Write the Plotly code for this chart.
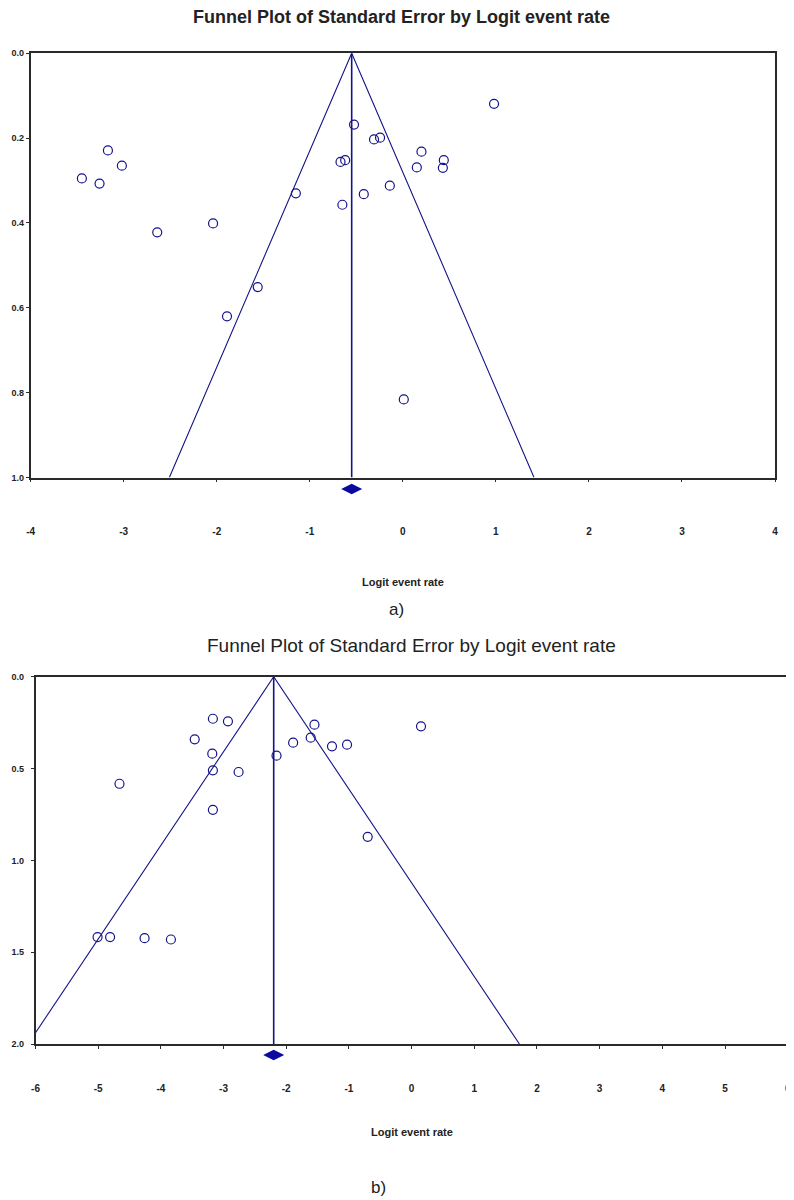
import plotly.graph_objects as go

# panel a) - logit event rate vs standard error
LOGIT_A = [-3.45, -3.26, -3.17, -3.02, -2.64, -2.04, -1.89, -1.56, -1.15, -0.67, -0.62, -0.65,
           -0.525, -0.42, -0.31, -0.245, -0.14, 0.01, 0.15, 0.20, 0.43, 0.44, 0.98]
SE_A = [0.295, 0.307, 0.229, 0.265, 0.422, 0.401, 0.620, 0.551, 0.330, 0.256, 0.252, 0.357,
        0.168, 0.332, 0.203, 0.199, 0.312, 0.816, 0.269, 0.232, 0.270, 0.252, 0.119]
MEAN_A = -0.55

# panel b)
LOGIT_B = [-5.01, -4.81, -4.66, -4.26, -3.84, -3.46, -3.17, -3.18, -3.17, -3.17, -2.93, -2.76,
           -2.155, -1.89, -1.61, -1.55, -1.27, -1.03, -0.70, 0.15]
SE_B = [1.418, 1.418, 0.583, 1.424, 1.431, 0.341, 0.229, 0.419, 0.510, 0.725, 0.243, 0.519,
        0.430, 0.359, 0.332, 0.261, 0.379, 0.370, 0.872, 0.270]
MEAN_B = -2.2

XTICKS_A = [-4, -3, -2, -1, 0, 1, 2, 3, 4]
YTICKS_A = [0.0, 0.2, 0.4, 0.6, 0.8, 1.0]
XTICKS_B = [-6, -5, -4, -3, -2, -1, 0, 1, 2, 3, 4, 5, 6]
YTICKS_B = [0.0, 0.5, 1.0, 1.5, 2.0]

TITLE = 'Funnel Plot of Standard Error by Logit event rate'
XTITLE = 'Logit event rate'

NAVY = '#14148a'
FRAME = '#2a2a2a'
NARROW = 'Liberation Sans Narrow, Arial Narrow, Liberation Sans, Arial'
SANS = 'Liberation Sans, Arial'
W, H = 794, 1200
# the page body adds 8px around the figure, so positions below are in page px
OFF = 8


def px_x(p) :
	return (p - OFF)/W


def px_y(p) :
	return 1 - (p - OFF)/H


def add_funnel(fig, logit, se, mean, se_max, xa, ya, xd, yd) :
	# study points
	fig.add_trace(go.Scatter(x=logit, y=se, mode='markers', xaxis=xa, yaxis=ya,
	                         marker=dict(symbol='circle-open', size=9, color=NAVY,
	                                     line=dict(width=1.2, color=NAVY)),
	                         showlegend=False))
	# 95% limits
	fig.add_trace(go.Scatter(x=[mean - 1.96*se_max, mean, mean + 1.96*se_max],
	                         y=[se_max, 0, se_max], mode='lines', xaxis=xa, yaxis=ya,
	                         line=dict(color=NAVY, width=1.1), showlegend=False))
	# mean line
	fig.add_trace(go.Scatter(x=[mean, mean], y=[0, se_max], mode='lines', xaxis=xa, yaxis=ya,
	                         line=dict(color=NAVY, width=1.6), showlegend=False))
	# summary diamond, on its own strip under the axis
	fig.add_trace(go.Scatter(x=[mean], y=[0.5], mode='markers', xaxis=xd, yaxis=yd,
	                         marker=dict(symbol='diamond-wide', size=15, color='#0a0a9e'),
	                         showlegend=False))


def axis_style(ticks, rng, dom, standoff, fmt) :
	return dict(range=rng, domain=dom, tickvals=ticks, ticktext=[fmt % t for t in ticks],
	            showline=True, mirror=True, linecolor=FRAME, linewidth=1.6,
	            ticks='outside', ticklen=3, tickcolor=FRAME, showgrid=False, zeroline=False,
	            tickfont=dict(family=NARROW, size=10, color='#222', weight='bold'),
	            ticklabelstandoff=standoff, ticklabeloverflow='allow', automargin=False)


def hidden_axis(rng, dom, anchor, match=None) :
	d = dict(range=rng, domain=dom, anchor=anchor, visible=False, showgrid=False,
	         zeroline=False, automargin=False)
	if match is not None :
		d['matches'] = match
	return d


def main () :
	fig = go.Figure()

	add_funnel(fig, LOGIT_A, SE_A, MEAN_A, 1.0, 'x', 'y', 'x3', 'y3')
	add_funnel(fig, LOGIT_B, SE_B, MEAN_B, 2.0, 'x2', 'y2', 'x4', 'y4')

	ann = [
		dict(text='<b>' + TITLE + '</b>', x=px_x(401.5), y=px_y(17),
		     font=dict(family=NARROW, size=18, color='#222')),
		dict(text='<b>' + XTITLE + '</b>', x=px_x(403), y=px_y(582),
		     font=dict(family=NARROW, size=11, color='#222')),
		dict(text='a)', x=px_x(396.5), y=px_y(609), font=dict(family=SANS, size=17, color='#222')),
		dict(text=TITLE, x=px_x(411.5), y=px_y(645), font=dict(family=SANS, size=19, color='#222')),
		dict(text='<b>' + XTITLE + '</b>', x=px_x(411.5), y=px_y(1131.7),
		     font=dict(family=NARROW, size=11, color='#222')),
		dict(text='b)', x=px_x(378), y=px_y(1187), font=dict(family=SANS, size=17, color='#222')),
	]
	for a in ann :
		a.update(xref='paper', yref='paper', showarrow=False, xanchor='center', yanchor='middle')

	xdom_a = [px_x(30.7), px_x(775)]
	xdom_b = [px_x(35.5), px_x(787.7)]

	fig.update_layout(
		width=W, height=H,
		template='none',
		paper_bgcolor='white', plot_bgcolor='white',
		margin=dict(l=0, r=0, t=0, b=0),
		showlegend=False,
		annotations=ann,
		xaxis=axis_style(XTICKS_A, [-4, 4], xdom_a, 41, '%d'),
		yaxis=axis_style(YTICKS_A, [1.0, 0.0], [px_y(477.5), px_y(53.3)], 0, '%.1f'),
		xaxis2=axis_style(XTICKS_B, [-6, 6], xdom_b, 31, '%d'),
		yaxis2=axis_style(YTICKS_B, [2.0, 0.0], [px_y(1044), px_y(676.7)], 5, '%.1f'),
		xaxis3=hidden_axis([-4, 4], xdom_a, 'y3', 'x'),
		yaxis3=hidden_axis([1, 0], [px_y(500), px_y(478)], 'x3'),
		xaxis4=hidden_axis([-6, 6], xdom_b, 'y4', 'x2'),
		yaxis4=hidden_axis([1, 0], [px_y(1066), px_y(1044)], 'x4'),
	)
	fig.update_layout(yaxis=dict(tickfont=dict(size=9)), yaxis2=dict(tickfont=dict(size=9)))
	fig.update_layout(xaxis2=dict(anchor='y2'), yaxis2=dict(anchor='x2'))

	fig.write_html('out.html')


if __name__ == '__main__' :
	main()
